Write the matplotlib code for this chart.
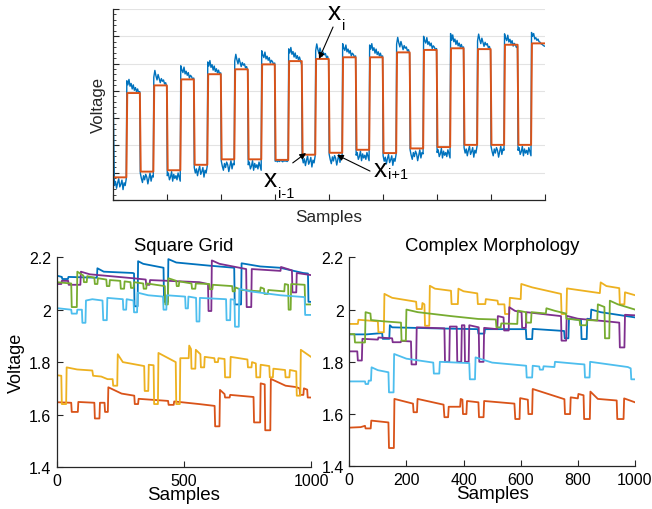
import numpy as np
import matplotlib
matplotlib.use('Agg')
import matplotlib.pyplot as plt
from matplotlib.ticker import MultipleLocator

plt.rcParams['font.family'] = ['Liberation Sans', 'DejaVu Sans']

# MATLAB default colour order
c_blue = '#0072BD'
c_orange = '#D95319'
c_yellow = '#EDB120'
c_purple = '#7E2F8E'
c_green = '#77AC30'
c_lblue = '#4DBEEE'
axis_col = '#262626'

# ---- top panel: raw trace and fitted levels (low/high alternate, 25 samples each)
seg_len = 25
fit_low = [0.83, 1.04, 1.09, 1.29, 1.49, 1.49, 1.47, 1.66,
           1.73, 1.84, 1.72, 1.89, 1.94, 2.02, 2.02, 2.02]
fit_high = [3.92, 4.20, 4.42, 4.61, 4.79, 4.97, 5.09, 5.17,
            5.23, 5.23, 5.41, 5.50, 5.56, 5.53, 5.69, 5.74]

raw_segments = [
    [3.40, 0.53, 0.68, 0.43, 0.63, 0.78, 0.48, 0.58, 0.73, 0.38, 0.63, 0.53, 0.78],
    [4.37, 4.22, 4.42, 4.17, 4.27, 4.07, 4.22, 4.02, 4.12, 3.97, 4.07, 3.92, 3.97],
    [0.99, 0.79, 0.64, 0.89, 0.74, 0.94, 0.84, 0.59, 0.79, 0.99, 0.69, 0.89, 0.84],
    [4.50, 4.75, 4.55, 4.40, 4.60, 4.45, 4.30, 4.45, 4.35, 4.40, 4.25, 4.30, 4.15],
    [0.89, 0.99, 0.74, 0.84, 1.04, 0.69, 0.94, 0.79, 0.89, 0.74, 0.99, 0.84, 0.69],
    [4.92, 4.77, 4.67, 4.87, 4.62, 4.72, 4.57, 4.67, 4.47, 4.57, 4.52, 4.42, 4.47],
    [1.19, 0.99, 1.14, 0.89, 1.09, 1.24, 0.94, 1.04, 1.19, 0.84, 1.09, 0.99, 1.24],
    [5.06, 4.91, 5.11, 4.86, 4.96, 4.76, 4.91, 4.71, 4.81, 4.66, 4.76, 4.61, 4.66],
    [1.44, 1.24, 1.09, 1.34, 1.19, 1.39, 1.29, 1.04, 1.24, 1.44, 1.14, 1.34, 1.29],
    [5.09, 5.34, 5.14, 4.99, 5.19, 5.04, 4.89, 5.04, 4.94, 4.99, 4.84, 4.89, 4.74],
    [1.29, 1.39, 1.14, 1.24, 1.44, 1.09, 1.34, 1.19, 1.29, 1.14, 1.39, 1.24, 1.09],
    [5.47, 5.32, 5.22, 5.42, 5.17, 5.27, 5.12, 5.22, 5.02, 5.12, 5.07, 4.97, 5.02],
    [1.42, 1.45, 1.40, 1.44, 1.41, 1.46, 1.43, 1.40, 1.45, 1.42, 1.44, 1.41, 1.45],
    [5.54, 5.39, 5.59, 5.34, 5.44, 5.24, 5.39, 5.19, 5.29, 5.14, 5.24, 5.09, 4.95],
    [1.56, 1.36, 1.51, 1.26, 1.46, 1.61, 1.31, 1.41, 1.56, 1.21, 1.46, 1.36, 1.61],
    [5.47, 5.72, 5.52, 5.37, 5.57, 5.42, 5.27, 5.42, 5.32, 5.37, 5.22, 5.27, 5.12],
    [1.68, 1.48, 1.33, 1.58, 1.43, 1.63, 1.53, 1.28, 1.48, 1.68, 1.38, 1.58, 1.53],
    [5.73, 5.58, 5.48, 5.68, 5.43, 5.53, 5.38, 5.48, 5.28, 5.38, 5.33, 5.23, 5.28],
    [1.64, 1.74, 1.49, 1.59, 1.79, 1.44, 1.69, 1.54, 1.64, 1.49, 1.74, 1.59, 1.44],
    [5.68, 5.53, 5.73, 5.48, 5.58, 5.38, 5.53, 5.33, 5.43, 5.28, 5.38, 5.23, 5.28],
    [1.62, 1.42, 1.57, 1.32, 1.52, 1.67, 1.37, 1.47, 1.62, 1.27, 1.52, 1.42, 1.67],
    [5.71, 5.96, 5.76, 5.61, 5.81, 5.66, 5.51, 5.66, 5.56, 5.61, 5.46, 5.51, 5.36],
    [1.84, 1.64, 1.49, 1.74, 1.59, 1.79, 1.69, 1.44, 1.64, 1.84, 1.54, 1.74, 1.69],
    [6.00, 5.85, 5.75, 5.95, 5.70, 5.80, 5.65, 5.75, 5.55, 5.65, 5.60, 5.50, 5.55],
    [1.74, 1.84, 1.59, 1.69, 1.89, 1.54, 1.79, 1.64, 1.74, 1.59, 1.84, 1.69, 1.54],
    [6.10, 5.85, 6.05, 5.80, 5.90, 5.70, 5.85, 5.65, 5.75, 5.60, 5.70, 5.56, 5.61],
    [1.92, 1.72, 1.87, 1.62, 1.82, 1.97, 1.67, 1.77, 1.92, 1.57, 1.82, 1.72, 1.97],
    [5.83, 6.08, 5.88, 5.73, 5.93, 5.78, 5.63, 5.78, 5.68, 5.73, 5.58, 5.63, 5.48],
    [1.97, 1.77, 1.62, 1.87, 1.72, 1.92, 1.82, 1.57, 1.77, 1.97, 1.67, 1.87, 1.82],
    [6.09, 5.94, 5.84, 6.04, 5.79, 5.89, 5.74, 5.84, 5.64, 5.74, 5.69, 5.59, 5.64],
    [1.82, 1.92, 1.67, 1.77, 1.97, 1.62, 1.87, 1.72, 1.82, 1.67, 1.92, 1.77, 1.62],
    [6.14, 6.00, 6.10, 5.90, 5.95, 5.85, 5.90, 5.80, 5.78, 5.72, 5.70, 5.66, 5.64],
]

# labelled points: (subscript, text x, text baseline, subscript offset pt, arrow tail, arrow tip)
point_labels = [
    ('i', 397.3, 6.63, (10, -7), (407.2, 6.34), (381.2, 5.17)),
    ('i-1', 279.3, 0.52, (10, -8), (332.5, 1.36), (357.1, 1.72)),
    ('i+1', 483.1, 0.89, (10, -2), (475.7, 1.06), (414.6, 1.65)),
]

# ---- bottom panels: breakpoints (sample, voltage) of each electrode trace
sq_blue = [(0, 2.13), (20, 2.125), (22, 2.117), (44, 2.117), (46, 2.125), (158, 2.122),
           (160, 2.158), (185, 2.145), (300, 2.14), (304, 2.138), (306, 2.013), (318, 2.013),
           (320, 2.185), (340, 2.175), (420, 2.16), (422, 2.03), (437, 2.03), (439, 2.193),
           (470, 2.18), (600, 2.168), (698, 2.16), (700, 2.02), (725, 2.02), (727, 2.177),
           (800, 2.165), (878, 2.16), (969, 2.14), (988, 2.138), (990, 2.03), (1000, 2.03)]
sq_orange = [(0, 1.647), (57, 1.645), (59, 1.61), (83, 1.61), (85, 1.648), (148, 1.645),
             (150, 1.585), (168, 1.585), (170, 1.645), (188, 1.645), (190, 1.61), (201, 1.61),
             (203, 1.704), (255, 1.68), (305, 1.672), (307, 1.64), (320, 1.64), (322, 1.66),
             (438, 1.652), (440, 1.637), (460, 1.637), (462, 1.65), (560, 1.64), (621, 1.633),
             (623, 1.555), (640, 1.555), (642, 1.694), (660, 1.678), (662, 1.665), (680, 1.665),
             (682, 1.675), (774, 1.667), (776, 1.57), (800, 1.57), (802, 1.719), (818, 1.715),
             (820, 1.54), (840, 1.54), (842, 1.736), (900, 1.71), (940, 1.705), (955, 1.7),
             (957, 1.675), (970, 1.675), (972, 1.7), (985, 1.695), (987, 1.665), (1000, 1.665)]
sq_yellow = [(0, 1.75), (18, 1.748), (20, 1.64), (37, 1.64), (39, 1.78), (80, 1.772),
             (140, 1.768), (143, 1.748), (175, 1.745), (200, 1.735), (220, 1.735), (222, 1.71),
             (238, 1.71), (240, 1.83), (260, 1.8), (344, 1.785), (346, 1.69), (360, 1.69),
             (362, 1.79), (381, 1.788), (383, 1.64), (398, 1.64), (400, 1.835), (468, 1.8),
             (470, 1.64), (484, 1.64), (486, 1.815), (519, 1.815), (521, 1.863), (528, 1.85),
             (530, 1.775), (545, 1.775), (547, 1.847), (565, 1.83), (567, 1.78), (580, 1.78),
             (582, 1.82), (620, 1.815), (622, 1.8), (634, 1.8), (636, 1.815), (660, 1.812),
             (662, 1.742), (682, 1.742), (684, 1.82), (750, 1.81), (752, 1.78), (766, 1.78),
             (768, 1.8), (783, 1.795), (785, 1.742), (800, 1.742), (802, 1.79), (836, 1.785),
             (838, 1.742), (850, 1.742), (852, 1.775), (898, 1.77), (900, 1.742), (915, 1.742),
             (917, 1.77), (942, 1.765), (944, 1.672), (958, 1.672), (960, 1.847), (1000, 1.82)]
sq_purple = [(0, 2.098), (18, 2.098), (20, 2.11), (45, 2.11), (47, 2.095), (93, 2.095),
             (95, 2.145), (130, 2.135), (300, 2.12), (350, 2.115), (352, 2.095), (365, 2.095),
             (367, 2.113), (560, 2.105), (595, 2.098), (597, 1.995), (608, 1.995), (610, 2.188),
             (640, 2.175), (745, 2.155), (747, 2.01), (765, 2.01), (767, 2.155), (880, 2.148),
             (882, 2.163), (925, 2.15), (927, 2.066), (942, 2.066), (944, 2.14), (1000, 2.132)]
sq_green = [(0, 2.105), (57, 2.1), (59, 2.01), (79, 2.01), (81, 2.145), (105, 2.13),
            (107, 2.105), (118, 2.105), (120, 2.128), (148, 2.122), (150, 2.098), (160, 2.098),
            (162, 2.12), (195, 2.115), (197, 2.09), (207, 2.09), (209, 2.113), (250, 2.11),
            (252, 2.08), (265, 2.08), (267, 2.108), (290, 2.105), (292, 2.083), (302, 2.083),
            (304, 2.105), (340, 2.1), (342, 2.08), (352, 2.08), (354, 2.1), (425, 2.09),
            (427, 2.02), (437, 2.02), (439, 2.12), (470, 2.11), (472, 2.09), (480, 2.09),
            (482, 2.108), (530, 2.1), (532, 2.08), (545, 2.08), (547, 2.1), (600, 2.098),
            (602, 2.078), (612, 2.078), (614, 2.095), (690, 2.09), (692, 2.07), (700, 2.07),
            (702, 2.085), (730, 2.075), (800, 2.07), (802, 2.085), (815, 2.08), (817, 2.06),
            (830, 2.06), (832, 2.075), (895, 2.07), (897, 2.098), (910, 2.095), (912, 2.0),
            (920, 2.0), (922, 2.098), (975, 2.095), (977, 2.02), (1000, 2.02)]
sq_lblue = [(0, 2.006), (57, 2.0), (59, 1.985), (79, 1.985), (81, 2.0), (99, 2.0),
            (101, 1.95), (113, 1.95), (115, 2.035), (140, 2.04), (180, 2.035), (183, 1.96),
            (197, 1.96), (199, 2.045), (260, 2.04), (262, 2.0), (273, 2.0), (275, 2.04),
            (302, 2.035), (304, 1.99), (316, 1.99), (318, 2.065), (360, 2.055), (418, 2.05),
            (420, 2.0), (431, 2.0), (433, 2.055), (505, 2.05), (507, 2.005), (516, 2.005),
            (518, 2.05), (548, 2.045), (550, 1.955), (561, 1.955), (563, 2.045), (666, 2.04),
            (668, 1.96), (682, 1.96), (684, 2.04), (699, 2.038), (701, 1.935), (716, 1.935),
            (718, 2.08), (760, 2.07), (880, 2.055), (975, 2.048), (977, 1.98), (1000, 1.98)]

cm_blue = [(0, 1.905), (60, 1.905), (115, 1.91), (117, 1.888), (140, 1.888), (142, 1.94),
           (150, 1.932), (300, 1.928), (450, 1.925), (452, 1.908), (473, 1.908), (475, 1.925),
           (618, 1.925), (620, 1.887), (640, 1.887), (642, 1.926), (752, 1.918), (754, 1.89),
           (767, 1.89), (769, 1.965), (811, 1.96), (813, 1.887), (831, 1.887), (833, 1.965),
           (845, 1.963), (847, 2.0), (880, 1.99), (1000, 1.97)]
cm_orange = [(0, 1.548), (40, 1.55), (55, 1.555), (57, 1.545), (75, 1.545), (77, 1.575),
             (137, 1.568), (139, 1.47), (156, 1.47), (158, 1.658), (223, 1.64), (225, 1.607),
             (237, 1.607), (239, 1.658), (330, 1.636), (333, 1.588), (346, 1.588), (348, 1.628),
             (388, 1.628), (390, 1.658), (396, 1.655), (398, 1.6), (410, 1.6), (412, 1.65),
             (452, 1.645), (454, 1.588), (470, 1.588), (472, 1.65), (578, 1.64), (581, 1.581),
             (596, 1.581), (598, 1.661), (625, 1.655), (627, 1.6), (640, 1.6), (642, 1.696),
             (753, 1.657), (755, 1.6), (773, 1.6), (775, 1.664), (800, 1.66), (802, 1.677),
             (820, 1.672), (822, 1.581), (842, 1.581), (844, 1.686), (870, 1.658), (936, 1.652),
             (938, 1.581), (960, 1.581), (962, 1.66), (1000, 1.645)]
cm_yellow = [(0, 1.945), (30, 1.945), (32, 1.961), (100, 1.955), (102, 1.913), (121, 1.913),
             (123, 2.06), (150, 2.045), (234, 2.03), (236, 2.002), (254, 2.002), (256, 2.025),
             (263, 2.02), (265, 1.938), (280, 1.938), (282, 2.091), (300, 2.08), (356, 2.072),
             (358, 2.021), (380, 2.021), (382, 2.08), (400, 2.07), (448, 2.062), (450, 2.021),
             (476, 2.021), (478, 2.04), (519, 2.034), (521, 2.02), (543, 2.02), (545, 1.983),
             (560, 1.983), (562, 2.045), (600, 2.04), (602, 2.098), (640, 2.085), (741, 2.06),
             (743, 1.983), (760, 1.983), (762, 2.081), (877, 2.063), (880, 2.104), (900, 2.09),
             (945, 2.082), (947, 2.02), (963, 2.02), (965, 2.066), (1000, 2.055)]
cm_purple = [(0, 1.84), (28, 1.84), (30, 1.805), (44, 1.805), (46, 1.888), (100, 1.885),
             (102, 1.893), (150, 1.89), (152, 1.875), (180, 1.875), (182, 1.88), (216, 1.878),
             (218, 1.79), (234, 1.79), (236, 1.932), (333, 1.928), (335, 1.8), (350, 1.8),
             (352, 1.935), (376, 1.935), (378, 1.8), (392, 1.8), (394, 1.94), (403, 1.94),
             (405, 1.8), (418, 1.8), (420, 1.94), (453, 1.932), (455, 1.8), (470, 1.8),
             (472, 1.93), (518, 1.925), (520, 1.975), (540, 1.97), (542, 1.92), (558, 1.92),
             (560, 2.009), (580, 1.995), (603, 1.99), (605, 1.93), (618, 1.93), (620, 1.99),
             (700, 1.98), (741, 1.975), (743, 1.881), (759, 1.881), (761, 1.976), (800, 1.965),
             (900, 1.955), (945, 1.95), (947, 1.855), (963, 1.855), (965, 1.98), (1000, 1.978)]
cm_green = [(0, 1.906), (18, 1.906), (20, 1.874), (55, 1.874), (57, 1.99), (74, 1.985),
            (76, 1.96), (120, 1.955), (181, 1.95), (183, 1.881), (198, 1.881), (200, 2.0),
            (240, 1.99), (356, 1.975), (452, 1.964), (513, 1.962), (515, 1.932), (530, 1.932),
            (532, 1.947), (588, 1.945), (590, 1.996), (618, 1.99), (620, 1.95), (636, 1.95),
            (638, 1.99), (688, 1.985), (690, 2.005), (720, 1.995), (758, 1.985), (760, 1.965),
            (806, 1.96), (808, 1.94), (830, 1.94), (832, 1.96), (868, 1.958), (870, 2.02),
            (893, 2.01), (895, 1.89), (910, 1.89), (912, 2.034), (940, 2.02), (1000, 2.0)]
cm_lblue = [(0, 1.725), (55, 1.725), (57, 1.715), (66, 1.715), (68, 1.728), (76, 1.728),
            (78, 1.779), (100, 1.768), (137, 1.76), (139, 1.683), (155, 1.683), (157, 1.83),
            (200, 1.812), (294, 1.797), (296, 1.755), (315, 1.755), (317, 1.8), (420, 1.795),
            (422, 1.733), (440, 1.733), (442, 1.817), (500, 1.797), (619, 1.785), (621, 1.74),
            (640, 1.74), (642, 1.785), (665, 1.782), (667, 1.77), (678, 1.77), (680, 1.783),
            (718, 1.78), (720, 1.8), (800, 1.792), (823, 1.79), (825, 1.74), (841, 1.74),
            (843, 1.8), (975, 1.78), (985, 1.775), (987, 1.733), (1000, 1.733)]

square_traces = [(sq_blue, c_blue), (sq_orange, c_orange), (sq_yellow, c_yellow),
                 (sq_purple, c_purple), (sq_green, c_green), (sq_lblue, c_lblue)]
complex_traces = [(cm_blue, c_blue), (cm_orange, c_orange), (cm_yellow, c_yellow),
                  (cm_purple, c_purple), (cm_green, c_green), (cm_lblue, c_lblue)]


def style_axes(ax):
    for side in ['top', 'right']:
        ax.spines[side].set_visible(False)
    for side in ['left', 'bottom']:
        ax.spines[side].set_color(axis_col)
        ax.spines[side].set_linewidth(0.9)
    ax.tick_params(direction='in', colors=axis_col, labelcolor='black', width=0.8)


fig = plt.figure(figsize=(6.52, 5.10), dpi=100)

# top panel
ax = fig.add_axes([0.1738, 0.6059, 0.6621, 0.3745])
raw_x, raw_y, fit_x, fit_y = [], [], [], []
for k, seg in enumerate(raw_segments):
    start = k * seg_len
    raw_x.extend(start + 2 * np.arange(len(seg)))
    raw_y.extend(seg)
    level = fit_low[k // 2] if k % 2 == 0 else fit_high[k // 2]
    fit_x.extend([start + (0 if k == 0 else 0.8), start + seg_len - 0.8])
    fit_y.extend([level, level])
ax.plot(raw_x, raw_y, color=c_blue, lw=1.0)
ax.plot(fit_x, fit_y, color=c_orange, lw=1.4)
ax.set_xlim(0, 800)
ax.set_ylim(0, 7)
ax.xaxis.set_major_locator(MultipleLocator(100))
ax.yaxis.set_major_locator(MultipleLocator(1))
ax.yaxis.set_minor_locator(MultipleLocator(0.2))
ax.set_xticklabels([])
ax.set_yticklabels([])
ax.grid(axis='y', color='#e3e3e3', lw=0.8)
ax.set_axisbelow(True)
style_axes(ax)
ax.tick_params(which='major', length=4)
ax.tick_params(which='minor', direction='in', length=2, color=axis_col)
ax.set_xlabel('Samples', fontsize=12.3, color='#262626', labelpad=3)
ax.set_ylabel('Voltage', fontsize=12, color='#262626', labelpad=2)

for sub, tx, ty, off, tail, tip in point_labels:
    ax.text(tx, ty, 'x', fontsize=19, va='baseline', ha='left', clip_on=False)
    ax.annotate(sub, xy=(tx, ty), xytext=off, textcoords='offset points',
                fontsize=10.5, va='baseline', ha='left', annotation_clip=False)
    ax.annotate('', xy=tip, xytext=tail,
                arrowprops=dict(arrowstyle='-|>', color='black', lw=0.8,
                                mutation_scale=9, shrinkA=0, shrinkB=0))

# bottom panels
panels = [
    ([0.0870, 0.0824, 0.3900, 0.4112], square_traces, 'Square Grid', [0, 500, 1000], True),
    ([0.5357, 0.0837, 0.4382, 0.4098], complex_traces, 'Complex Morphology',
     [0, 200, 400, 600, 800, 1000], False),
]
for rect, traces, title, xticks, show_ylabel in panels:
    ax = fig.add_axes(rect)
    for pts, col in traces:
        xs, ys = zip(*pts)
        ax.plot(xs, ys, color=col, lw=1.3)
    ax.set_xlim(0, 1000)
    ax.set_ylim(1.4, 2.2)
    ax.set_xticks(xticks)
    ax.set_yticks([1.4, 1.6, 1.8, 2.0, 2.2])
    ax.set_yticklabels(['1.4', '1.6', '1.8', '2', '2.2'])
    style_axes(ax)
    ax.tick_params(length=4, labelsize=11.5, pad=4)
    ax.set_title(title, fontsize=13.3, pad=5)
    ax.set_xlabel('Samples', fontsize=13.5, labelpad=-1)
    if show_ylabel:
        ax.set_ylabel('Voltage', fontsize=13, labelpad=3)

fig.savefig('out.png', dpi=100)
